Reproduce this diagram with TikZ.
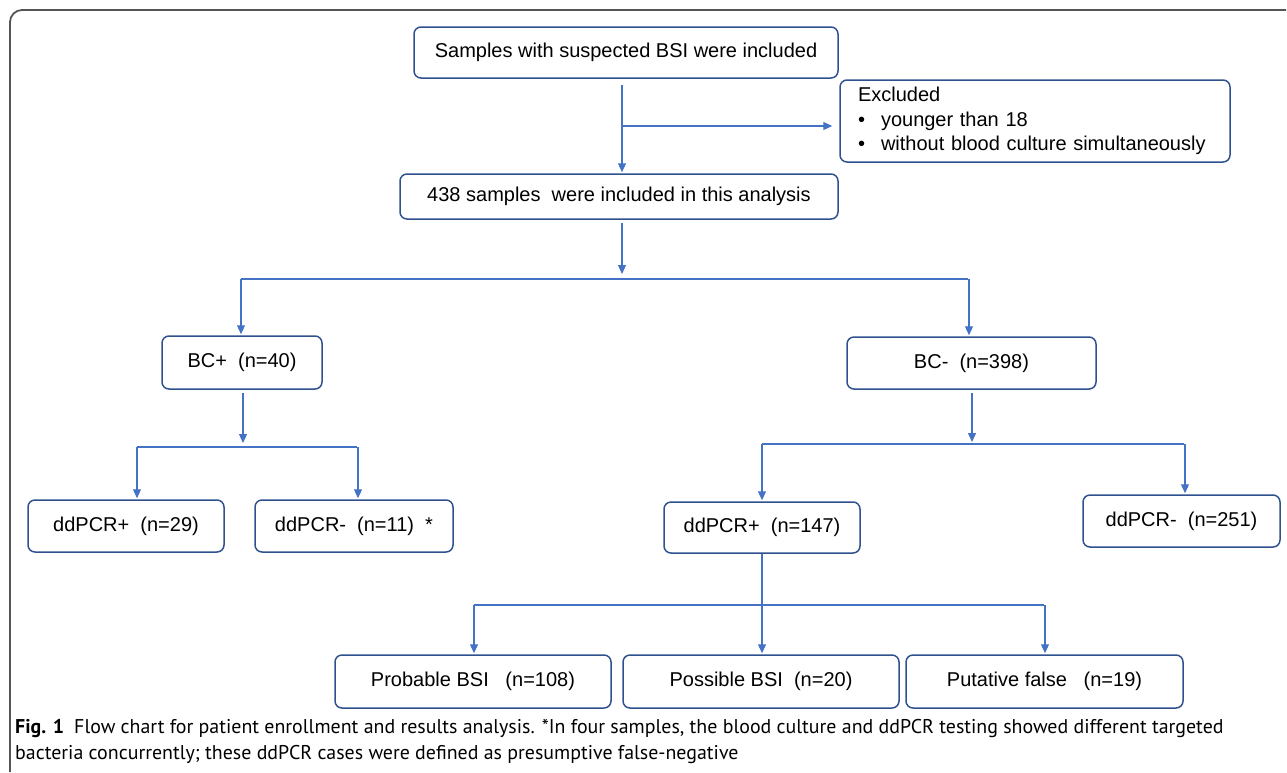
\documentclass[tikz,border=0pt]{standalone}
\usepackage{fontspec}
\setmainfont{Liberation Sans}
\newfontfamily\capfont{PT Sans}
\usepackage{xcolor}
\usepackage{tikz}
\usetikzlibrary{arrows.meta}
\usetikzlibrary{calc}
\usetikzlibrary{positioning}
\definecolor{boxline}{RGB}{47,82,143}
\definecolor{arrowblue}{RGB}{68,114,196}
\definecolor{framegray}{RGB}{85,85,85}

\begin{document}
\begin{tikzpicture}[x=1pt,y=-1pt,>={Triangle[length=9pt,width=8pt]},shorten >=1pt]
	\tikzstyle{box}=[draw=boxline, line width=1.5pt, rounded corners=7pt, inner sep=0pt, font=\fontsize{20}{24}\selectfont]
	\tikzstyle{link}=[draw=arrowblue, line width=1.1pt]
	\tikzstyle{arr}=[link, ->]

	\useasboundingbox (0,0) rectangle (1287,772);
	\draw[framegray, line width=1.8pt, rounded corners=12pt] (10,772) -- (10,10) -- (1287,10);

	\node[box, minimum width=424pt, minimum height=51pt] (samples) at (626,52.5) {Samples with suspected BSI were included};
	\node[box, minimum width=390pt, minimum height=82pt, text width=354pt, inner xsep=18pt, align=left, font=\fontsize{20}{24.5}\selectfont] (excl) at (1035,121)
		{Excluded\\\textbullet\hspace{16pt}younger than 18\\\textbullet\hspace{16pt}without blood culture simultaneously};
	\node[box, minimum width=438pt, minimum height=45pt] (incl) at (619,196.5) {438 samples~~were included in this analysis};

	\node[box, minimum width=160pt, minimum height=53pt] (bcpos) at (242,362.5) {BC+~~(n=40)};
	\node[box, minimum width=249pt, minimum height=52pt] (bcneg) at (971.5,363) {BC-~~(n=398)};

	\node[box, minimum width=196pt, minimum height=52pt] (pcrA) at (126,526) {ddPCR+~~(n=29)};
	\node[box, minimum width=198pt, minimum height=52pt] (pcrB) at (354,526) {ddPCR-~~(n=11)~~*};
	\node[box, minimum width=196pt, minimum height=51pt] (pcrC) at (762,527.5) {ddPCR+~~(n=147)};
	\node[box, minimum width=197pt, minimum height=52pt] (pcrD) at (1181.5,521) {ddPCR-~~(n=251)};

	\node[box, minimum width=276pt, minimum height=53pt] (prob) at (473,681.5) {Probable BSI~~~(n=108)};
	\node[box, minimum width=276pt, minimum height=53pt] (poss) at (761,681.5) {Possible BSI~~(n=20)};
	\node[box, minimum width=277pt, minimum height=53pt] (put) at (1044.5,681.5) {Putative false~~~(n=19)};

	\node[anchor=west, align=left, inner sep=0pt, font=\capfont\fontsize{19.9}{25.5}\selectfont] (caption) at (15,741.5)
		{\textbf{Fig. 1}\hspace{10pt}Flow chart for patient enrollment and results analysis. *In four samples, the blood culture and ddPCR testing showed different targeted\\
		bacteria concurrently; these ddPCR cases were defined as presumptive false-negative};

	\coordinate (j1) at (622,126);
	\coordinate (j2) at (622,279);
	\coordinate (l1) at (241,279);
	\coordinate (r1) at (969,279);
	\coordinate (j3) at (243,447);
	\coordinate (l2) at (137,447);
	\coordinate (r2) at (358,447);
	\coordinate (j4) at (972,444);
	\coordinate (l3) at (762,444);
	\coordinate (r3) at (1185,444);
	\coordinate (l4) at (474,605);
	\coordinate (r4) at (1045,605);

	% top part
	\draw[arr, shorten <=6pt] (samples.south -| j1) -- (incl.north -| j1);
	\draw[arr, shorten >=7pt] (j1) -- (excl.west |- j1);
	\draw[arr, shorten <=3pt, shorten >=5pt] (incl.south -| j2) -- (j2);
	\draw[link] (l1) -- (r1);
	\draw[arr] (l1) -- (bcpos.north -| l1);
	\draw[arr] (r1) -- (bcneg.north -| r1);

	% BC+
	\draw[arr, shorten <=3pt, shorten >=4pt] (bcpos.south -| j3) -- (j3);
	\draw[link] (l2) -- (r2);
	\draw[arr] (l2) -- (pcrA.north -| l2);
	\draw[arr] (r2) -- (pcrB.north -| r2);

	% BC-
	\draw[arr, shorten <=3pt, shorten >=2pt] (bcneg.south -| j4) -- (j4);
	\draw[link] (l3) -- (r3);
	\draw[arr] (l3) -- (pcrC.north -| l3);
	\draw[arr] (r3) -- (pcrD.north -| r3);

	% ddPCR+ split
	\draw[arr] (pcrC.south) -- (pcrC.south |- poss.north);
	\draw[link] (l4) -- (r4);
	\draw[arr] (l4) -- (prob.north -| l4);
	\draw[arr] (r4) -- (put.north -| r4);
\end{tikzpicture}
\end{document}
